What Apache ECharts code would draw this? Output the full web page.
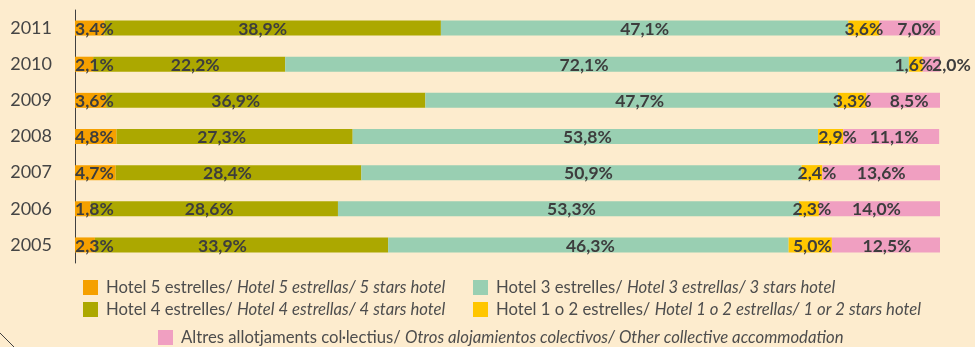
<!DOCTYPE html>
<html>
<head>
<meta charset="utf-8">
<script src="https://cdn.jsdelivr.net/npm/echarts@6/dist/echarts.min.js"></script>
<style>
  html, body { margin: 0; padding: 0; background: #fdecce; }
  #chart { width: 975px; height: 347px; }
</style>
</head>
<body>
<div id="chart"></div>
<script>
// Years, bottom to top
const years = ['2005', '2006', '2007', '2008', '2009', '2010', '2011'];

// Share of overnight stays by establishment type (%)
const hotel5 = [2.3, 1.8, 4.7, 4.8, 3.6, 2.1, 3.4];
const hotel4 = [33.9, 28.6, 28.4, 27.3, 36.9, 22.2, 38.9];
const hotel3 = [46.3, 53.3, 50.9, 53.8, 47.7, 72.1, 47.1];
const hotel12 = [5.0, 2.3, 2.4, 2.9, 3.3, 1.6, 3.6];
const altres = [12.5, 14.0, 13.6, 11.1, 8.5, 2.0, 7.0];

const seriesNames = [
  'Hotel 5 estrelles/ Hotel 5 estrellas/ 5 stars hotel',
  'Hotel 4 estrelles/ Hotel 4 estrellas/ 4 stars hotel',
  'Hotel 3 estrelles/ Hotel 3 estrellas/ 3 stars hotel',
  'Hotel 1 o 2 estrelles/ Hotel 1 o 2 estrellas/ 1 or 2 stars hotel',
  'Altres allotjaments col·lectius/ Otros alojamientos colectivos/ Other collective accommodation'
];

const colors = ['#f5a000', '#aca800', '#99cfb2', '#ffc600', '#f09fc1'];

// Horizontal label nudges (px) per series, per year
const labelShift = [
  [0, 0, 0, 0, 0, 0, 0],
  [-19, -5, -11, -13, -30, 6, -10],
  [2, 3, 7, 2, 8, -13, 0],
  [2, 3, 5, 7, 0, -2, 0],
  [1, -3, 0, 3, 6, 20, 7]
];

const values = [hotel5, hotel4, hotel3, hotel12, altres];
const labelPos = ['insideLeft', 'inside', 'inside', 'inside', 'inside'];

const fmt = v => v.toFixed(1).replace('.', ',') + '%';

const series = values.map((arr, s) => ({
  name: seriesNames[s],
  type: 'bar',
  stack: 'total',
  barWidth: 15,
  itemStyle: { color: colors[s] },
  label: {
    show: true,
    position: labelPos[s],
    distance: 0,
    formatter: p => fmt(p.value),
    fontFamily: 'Lato',
    fontWeight: 'bold',
    fontSize: 17.5,
    color: '#3d3d3d'
  },
  data: arr.map((v, i) => ({
    value: v,
    label: { offset: [labelShift[s][i], 1] }
  }))
}));

const legendFormatter = name => {
  const i = name.indexOf('/ ');
  return '{a|' + name.slice(0, i + 2) + '}{b|' + name.slice(i + 2) + '}';
};

const legendText = {
  color: '#4d4d4d',
  fontFamily: 'Lato',
  fontSize: 16.7,
  rich: {
    a: { fontFamily: 'Lato', fontSize: 16.7, color: '#4d4d4d', padding: [0, 0, 0, 3] },
    b: { fontFamily: 'Lato', fontSize: 16.7, fontStyle: 'italic', color: '#4d4d4d' }
  }
};

const legendBase = {
  orient: 'vertical',
  icon: 'rect',
  itemWidth: 15,
  itemHeight: 15,
  itemGap: 5,
  padding: 0,
  selectedMode: false,
  formatter: legendFormatter,
  textStyle: legendText
};

const chart = echarts.init(document.getElementById('chart'));
chart.setOption({
  backgroundColor: '#fdecce',
  animation: false,
  grid: { left: 75, right: 35, top: 10, bottom: 84 },
  xAxis: { type: 'value', min: 0, max: 100, show: false },
  yAxis: {
    type: 'category',
    data: years,
    axisLine: { lineStyle: { color: '#404040', width: 1 } },
    axisTick: { length: 4, lineStyle: { color: '#404040' } },
    axisLabel: { margin: 23, fontFamily: 'Lato', fontSize: 18, color: '#454545' }
  },
  legend: [
    Object.assign({}, legendBase, { left: 83, top: 279, data: [seriesNames[0], seriesNames[1]] }),
    Object.assign({}, legendBase, { left: 473, top: 279, data: [seriesNames[2], seriesNames[3]] }),
    Object.assign({}, legendBase, { left: 158, top: 329, data: [seriesNames[4]] })
  ],
  graphic: [{
    type: 'line',
    shape: { x1: 0, y1: 333, x2: 14, y2: 347 },
    style: { stroke: '#404040', lineWidth: 1 }
  }],
  series: series
});
</script>
</body>
</html>
